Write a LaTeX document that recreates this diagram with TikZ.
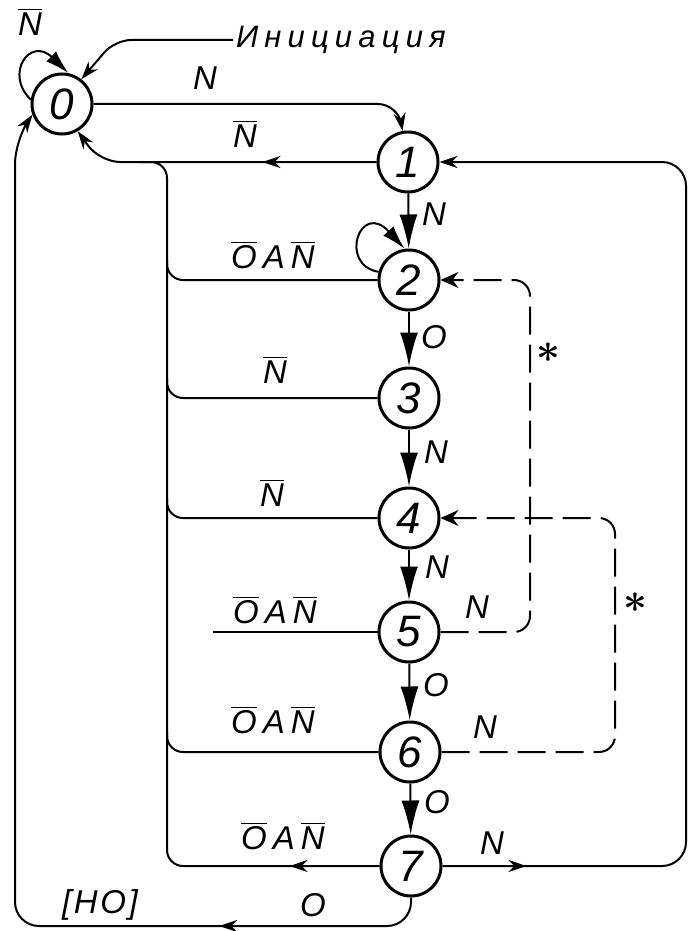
\documentclass[tikz,border=0pt]{standalone}
\usepackage{fontspec}
\setmainfont{Liberation Sans}
\newfontfamily\gost[LetterSpace=8]{Liberation Sans}
\newfontfamily\gostwide[LetterSpace=20]{Liberation Sans}
\usetikzlibrary{arrows.meta,decorations.markings}
\newcommand\ovl[1]{$\overline{\mbox{#1}}$}
\begin{document}
\begin{tikzpicture}[x=0.5pt,y=-0.5pt,line width=1pt,
  st/.style={circle,draw,line width=1.5pt,minimum size=30pt,inner sep=0pt,
    font=\gost\itshape\fontsize{22}{22}\selectfont},
  lbl/.style={inner sep=1pt,font=\gost\itshape\fontsize{16.5}{16.5}\selectfont},
  big/.style={-{Latex[length=17pt,width=9pt]}},
  tip/.style={-{Stealth[length=9pt,width=6pt]}},
  tipd/.style={-{Stealth[length=9pt,width=8pt,inset=3pt]}},
  loopt/.style={-{Latex[length=12pt,width=7pt]}},
  dsh/.style={dash pattern=on 14pt off 5pt},
  midarr/.style={postaction={decorate,decoration={markings,
    mark=at position #1 with {\arrow{Stealth[length=9pt,width=6pt]}}}}}]
\useasboundingbox (0,0) rectangle (690,931);

% states
\node[st] (n0) at (62,104) {0};
\node[st] (n1) at (408,162) {1};
\node[st] (n2) at (409,280) {2};
\node[st] (n3) at (409,398) {3};
\node[st] (n4) at (409,518) {4};
\node[st] (n5) at (409,632) {5};
\node[st] (n6) at (410,752) {6};
\node[st] (n7) at (411,866) {7};

\node[lbl,anchor=west,font=\gostwide\itshape\fontsize{15.5}{15.5}\selectfont] (init) at (233,40) {Инициация};

% labels
\node[lbl] (lloop0) at (30,22) {\ovl{N}};
\node[lbl] (l01) at (205,78) {N};
\node[lbl] (l10) at (245,134) {\ovl{N}};
\node[lbl] (l12) at (434,214) {N};
\node[lbl] (l23) at (434,337) {O};
\node[lbl] (l34) at (436,452) {N};
\node[lbl] (l45) at (437,567) {N};
\node[lbl] (l56) at (436,685) {O};
\node[lbl] (l67) at (437,802) {O};
\node[lbl] (lb2) at (273,255) {\ovl{O}\hspace{3pt}A\hspace{3pt}\ovl{N}};
\node[lbl] (lb3) at (275,370) {\ovl{N}};
\node[lbl] (lb4) at (272,493) {\ovl{N}};
\node[lbl] (lb5) at (275,610) {\ovl{O}\hspace{3pt}A\hspace{3pt}\ovl{N}};
\node[lbl] (lb6) at (273,720) {\ovl{O}\hspace{3pt}A\hspace{3pt}\ovl{N}};
\node[lbl] (lb7) at (283,836) {\ovl{O}\hspace{3pt}A\hspace{3pt}\ovl{N}};
\node[lbl] (l52) at (477,607) {N};
\node[lbl] (l64) at (485,727) {N};
\node[lbl] (l71) at (492,843) {N};
\node[lbl,font=\fontsize{22}{22}\selectfont\boldmath] (s1) at (548,353) {$\ast$};
\node[lbl,font=\fontsize{22}{22}\selectfont\boldmath] (s2) at (635,603) {$\ast$};
\node[lbl] (ho) at (100,905) {[НО]};
\node[lbl] (lo7) at (313,905) {O};

% loops
\draw[loopt] (n0.172) .. controls (4,74) and (30,36) .. (n0.78);
\draw[loopt] (n2.165) .. controls (338,265) and (360,200) .. (n2.98);

% initiation
\draw[tip,rounded corners=8] (init.west) -- (115,40) -- (n0.52);

% 0 -> 1
\draw[tip,rounded corners=10] (n0.east) -- (398,104) -- (n1.100);
% 1 -> 0
\draw[tip,rounded corners=10,midarr=57pt] (n1.west) -- (100,162) -- (n0.300);

% bus to 0
\draw[rounded corners=8,midarr=45pt] (n7.west) -- (167,866) -- (167,162) -- (140,162);
\foreach \n/\y in {2/280,3/398,4/518,6/752}
  \draw[rounded corners=8] (n\n.west) -- (167,\y) -- (167,\y-20);
\coordinate (c5) at (213,632);
\draw (n5.west) -- (c5);

% 7 -> 0 bottom
\draw[tip,rounded corners=12,midarr=105pt] (n7.south) -- (411,926) -- (15,926) -- (15,140) -- (n0.200);
% 7 -> 1 right
\draw[tip,rounded corners=12,midarr=42pt] (n7.east) -- (686,866) -- (686,162) -- (n1.east);

% dashed
\draw[tipd,dsh,rounded corners=8] (n5.east) -- (530,632) -- (530,280) -- (n2.east);
\draw[tipd,dsh,rounded corners=8] (n6.east) -- (615,752) -- (615,518) -- (n4.east);

% main chain
\draw[big] (n1) -- (n2);
\draw[big] (n2) -- (n3);
\draw[big] (n3) -- (n4);
\draw[big] (n4) -- (n5);
\draw[big] (n5) -- (n6);
\draw[big] (n6) -- (n7);
\end{tikzpicture}
\end{document}
